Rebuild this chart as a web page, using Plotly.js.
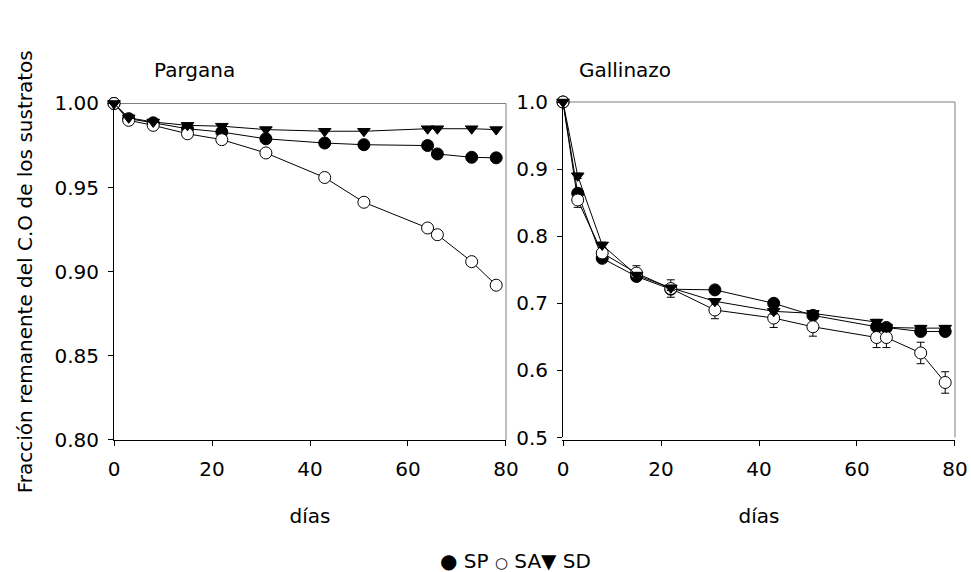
<!DOCTYPE html>
<html>
<head>
<meta charset="utf-8">
<script src="https://cdn.plot.ly/plotly-3.0.1.min.js"></script>
<style>html,body{margin:0;padding:0;background:#fff;}#chart{width:971px;height:572px;}</style>
</head>
<body>
<div id="chart"></div>
<script>
// ---- data ----
var days = [0, 3, 8, 15, 22, 31, 43, 51, 64, 66, 73, 78];

var panelTitles = ["Pargana", "Gallinazo"];
var seriesNames = ["SP", "SA", "SD"];

// Pargana
var pargSP = [1.000, 0.991, 0.9885, 0.985, 0.983, 0.979, 0.9765, 0.9755, 0.975, 0.970, 0.968, 0.9677];
var pargSA = [1.000, 0.990, 0.987, 0.982, 0.9785, 0.9706, 0.956, 0.9413, 0.926, 0.922, 0.906, 0.892];
var pargSD = [1.000, 0.9915, 0.989, 0.987, 0.9865, 0.9845, 0.9835, 0.9835, 0.985, 0.985, 0.985, 0.9845];

// Gallinazo
var gallSP = [1.000, 0.864, 0.767, 0.740, 0.721, 0.720, 0.700, 0.682, 0.665, 0.664, 0.658, 0.658];
var gallSA = [1.000, 0.854, 0.775, 0.745, 0.722, 0.690, 0.678, 0.665, 0.649, 0.649, 0.626, 0.582];
var gallSD = [1.000, 0.890, 0.787, 0.742, 0.723, 0.703, 0.688, 0.685, 0.672, 0.664, 0.663, 0.663];
var gallSPerr = [0, 0.004, 0.004, 0.005, 0.005, 0.004, 0.005, 0.005, 0.005, 0.004, 0.004, 0.004];
var gallSAerr = [0, 0.011, 0.008, 0.011, 0.013, 0.013, 0.014, 0.014, 0.015, 0.015, 0.016, 0.016];
var gallSDerr = [0, 0.004, 0.004, 0.004, 0.004, 0.004, 0.004, 0.004, 0.004, 0.004, 0.004, 0.004];

var xTicks = [0, 20, 40, 60, 80];
var yTicksParg = [0.80, 0.85, 0.90, 0.95, 1.00];
var yTicksGall = [0.5, 0.6, 0.7, 0.8, 0.9, 1.0];

// ---- styles ----
var FONT = "DejaVu Sans, sans-serif";
var styles = {
  SP: {symbol: "circle", size: 12, color: "#000000"},
  SA: {symbol: "circle", size: 12, color: "#ffffff"},
  SD: {symbol: "triangle-down", size: 11, color: "#000000"}
};

function mk(x, y, name, xa, ya, err) {
  var s = styles[name];
  var t = {
    x: x, y: y, name: name, xaxis: xa, yaxis: ya,
    type: "scatter", mode: "lines+markers", showlegend: false,
    cliponaxis: false,
    line: {color: "#000000", width: 1},
    marker: {symbol: s.symbol, size: s.size, color: s.color, line: {color: "#000000", width: 1}}
  };
  if (err) {
    t.error_y = {type: "data", array: err, visible: true, color: "#000000", thickness: 1, width: 4};
  }
  return t;
}

var data = [
  mk(days, pargSP, "SP", "x", "y"),
  mk(days, pargSA, "SA", "x", "y"),
  mk(days, pargSD, "SD", "x", "y"),
  mk(days, gallSP, "SP", "x2", "y2", gallSPerr),
  mk(days, gallSA, "SA", "x2", "y2", gallSAerr),
  mk(days, gallSD, "SD", "x2", "y2", gallSDerr)
];

var tickFont = {family: FONT, size: 20, color: "#000000"};
function xax(domain) {
  return {
    domain: domain, range: [0, 80], tickvals: xTicks, ticktext: xTicks.map(String),
    showline: true, linecolor: "#000000", linewidth: 1, mirror: false,
    ticks: "outside", ticklen: 5, tickcolor: "#000000", tickwidth: 1,
    showgrid: false, zeroline: false, tickfont: tickFont, ticklabelstandoff: 6,
    title: {text: "días", font: {family: FONT, size: 20, color: "#000000"}, standoff: 28},
    automargin: false, fixedrange: true
  };
}
function yax(domain, range, vals, fmt, anchor, title) {
  var a = {
    domain: domain, range: range, tickvals: vals, ticktext: vals.map(function(v){return v.toFixed(fmt);}),
    anchor: anchor,
    showline: true, linecolor: "#000000", linewidth: 1, mirror: false,
    ticks: "outside", ticklen: 5, tickcolor: "#000000", tickwidth: 1,
    showgrid: false, zeroline: false, tickfont: tickFont, ticklabelstandoff: 5,
    automargin: false, fixedrange: true
  };
  if (title) a.title = {text: title, font: {family: FONT, size: 20, color: "#000000"}, standoff: 16};
  return a;
}

var boxLine = {color: "#7f7f7f", width: 1};
function frame(xr, yr) {
  return [
    {type: "line", xref: xr + " domain", yref: yr + " domain", x0: 0, x1: 1, y0: 1, y1: 1, line: boxLine, layer: "below"},
    {type: "line", xref: xr + " domain", yref: yr + " domain", x0: 1, x1: 1, y0: 0, y1: 1, line: boxLine, layer: "below"}
  ];
}

var layout = {
  width: 971, height: 572,
  margin: {l: 114, r: 16, t: 102, b: 132, pad: 0},
  paper_bgcolor: "#ffffff", plot_bgcolor: "#ffffff",
  font: {family: FONT, size: 20, color: "#000000"},
  showlegend: false,
  xaxis: xax([0, 0.4661]),
  yaxis: yax([0, 0.9956], [0.80, 1.00], yTicksParg, 2, "x", "Fracción remanente del C.O de los sustratos"),
  xaxis2: xax([0.5339, 1]),
  yaxis2: yax([0.0074, 1], [0.5, 1.0], yTicksGall, 1, "x2", null),
  shapes: frame("x", "y").concat(frame("x2", "y2")),
  annotations: [
    {text: panelTitles[0], xref: "paper", yref: "paper", x: (194 - 114) / 841, y: (440 - 70) / 338,
     xanchor: "center", yanchor: "middle", showarrow: false, font: {family: FONT, size: 20, color: "#000"}},
    {text: panelTitles[1], xref: "paper", yref: "paper", x: (625 - 114) / 841, y: (440 - 70) / 338,
     xanchor: "center", yanchor: "middle", showarrow: false, font: {family: FONT, size: 20, color: "#000"}},
    {text: "● " + seriesNames[0] + " <span style=\"font-size:15px\">○</span> " + seriesNames[1] + "▼ " + seriesNames[2],
     xref: "paper", yref: "paper", x: (515 - 114) / 841, y: (440 - 561) / 338,
     xanchor: "center", yanchor: "middle", showarrow: false, font: {family: FONT, size: 20, color: "#000"}}
  ]
};

Plotly.newPlot("chart", data, layout, {staticPlot: true, displayModeBar: false});
</script>
</body>
</html>
